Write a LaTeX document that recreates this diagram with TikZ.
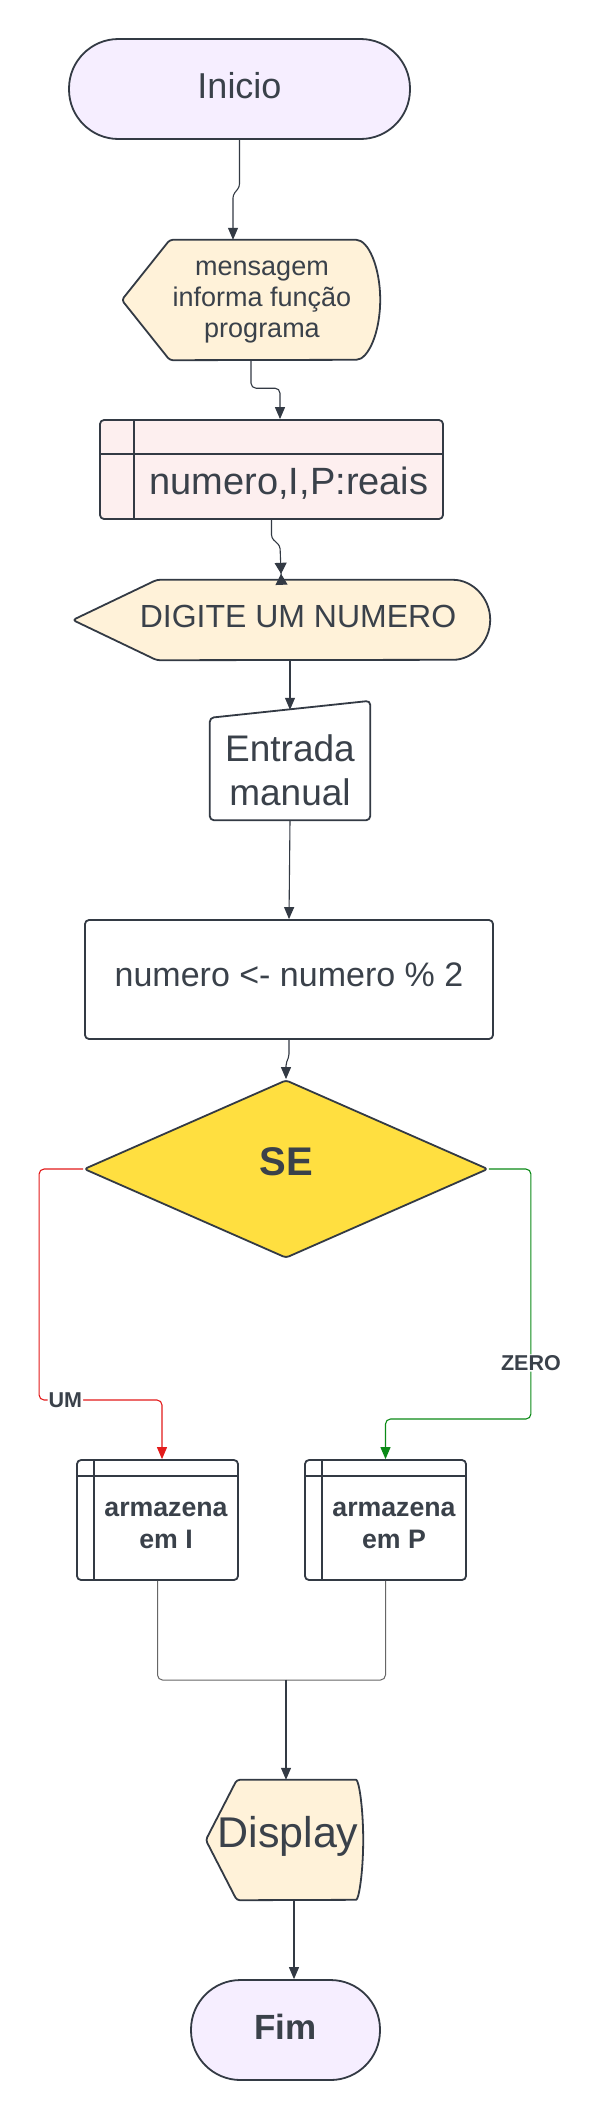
\documentclass[tikz,border=0pt]{standalone}
\usepackage{fontspec}
\setmainfont{Liberation Sans}
\usetikzlibrary{arrows.meta,shapes.geometric}

\definecolor{linecol}{HTML}{333A44}
\definecolor{textcol}{HTML}{3A414A}
\definecolor{termfill}{HTML}{F6EEFF}
\definecolor{creamfill}{HTML}{FFF2D9}
\definecolor{declfill}{HTML}{FDEFEF}
\definecolor{ifyellow}{HTML}{FFDF40}
\definecolor{oddred}{HTML}{E31B1B}
\definecolor{evengreen}{HTML}{0B8A17}
\definecolor{mergegray}{HTML}{666666}

\begin{document}
\begin{tikzpicture}[x=1pt,y=-1pt]
\tikzset{
  shapeline/.style={draw=linecol,line width=1.8pt,line join=round},
  terminal/.style={rectangle,shapeline,fill=termfill,rounded corners=49.5pt,minimum width=#1,minimum height=100pt,inner sep=0pt,text=textcol},
  hollow/.style={rectangle,draw=none,inner sep=0pt},
  nodetext/.style={text=textcol,align=center,inner sep=0pt},
  process/.style={rectangle,shapeline,fill=white,rounded corners=4pt,minimum width=408pt,minimum height=119pt,inner sep=0pt,text=textcol},
  decision/.style={diamond,shapeline,fill=ifyellow,rounded corners=3pt,minimum width=404pt,minimum height=178pt,inner sep=0pt,text=textcol},
  storage/.style 2 args={rectangle,shapeline,rounded corners=4pt,inner sep=0pt,
    path picture={
      \draw[draw=linecol,line width=1.8pt] ([yshift=-#1]path picture bounding box.north west) -- ([yshift=-#1]path picture bounding box.north east);
      \draw[draw=linecol,line width=1.8pt] ([xshift=#2]path picture bounding box.north west) -- ([xshift=#2]path picture bounding box.south west);}},
  flow/.style={draw=linecol,line width=1.1pt,rounded corners=5pt,-{Triangle[length=12pt,width=10pt]}},
  bowtie/.style={flow,-{Triangle[length=11pt,width=12pt]Triangle[length=11pt,width=12pt,reversed]}},
  mergeline/.style={draw=mergegray,line width=1pt,rounded corners=5pt},
  edgelabel/.style={fill=white,text=textcol,inner sep=1pt,font=\bfseries\fontsize{21.5}{24}\selectfont}
}
\fill[white] (0,0) rectangle (598,2120);
\useasboundingbox (0,0) rectangle (598,2120);

\node[terminal=341pt,font=\fontsize{36}{43}\selectfont,text depth=7pt] (n_inicio) at (239.5,89) {Inicio};

\node[hollow,minimum width=258pt,minimum height=120pt] (n_msg) at (251,300) {};
\draw[shapeline,fill=creamfill,rounded corners=3pt] (n_msg.west) -- ([xshift=48pt]n_msg.north west) -- ([xshift=-27pt]n_msg.north east) arc[start angle=90,end angle=-90,x radius=27pt,y radius=60pt] -- ([xshift=48pt]n_msg.south west) -- cycle;
\node[nodetext,font=\fontsize{27}{31}\selectfont] (n_msg_txt) at (262,302) {mensagem\\informa função\\programa};

\node[storage={34pt}{34pt},fill=declfill,minimum width=343pt,minimum height=99pt] (n_decl) at (271.5,469.5) {};
\node[nodetext,font=\fontsize{38}{44}\selectfont] (n_decl_txt) at (289,483) {numero,I,P:reais};

\node[hollow,minimum width=417pt,minimum height=80pt] (n_dig) at (281.5,620) {};
\draw[shapeline,fill=creamfill,rounded corners=3pt] (n_dig.west) -- ([xshift=84pt]n_dig.north west) -- ([xshift=-40pt]n_dig.north east) arc[start angle=90,end angle=-90,radius=40pt] -- ([xshift=84pt]n_dig.south west) -- cycle;
\node[nodetext,font=\fontsize{32}{38}\selectfont] (n_dig_txt) at (298,616) {DIGITE UM NUMERO};

\node[hollow,minimum width=160pt,minimum height=119pt] (n_man) at (290,760.5) {};
\draw[shapeline,fill=white,rounded corners=4pt] ([yshift=-17pt]n_man.north west) -- (n_man.north east) -- (n_man.south east) -- (n_man.south west) -- cycle;
\node[nodetext,font=\fontsize{37}{44}\selectfont] (n_man_txt) at (290,770) {Entrada\\manual};

\node[process,font=\fontsize{34}{40}\selectfont,text depth=9pt] (n_proc) at (289,979.5) {numero <- numero \% 2};

\node[decision,font=\bfseries\fontsize{40}{48}\selectfont,text depth=14pt] (n_if) at (286,1169) {SE};

\node[storage={16pt}{17pt},fill=white,minimum width=161pt,minimum height=120pt] (n_odd) at (157.5,1520) {};
\node[nodetext,font=\bfseries\fontsize{26.7}{32}\selectfont] (n_odd_txt) at (166,1525) {armazena\\em I};
\node[storage={16pt}{17pt},fill=white,minimum width=161pt,minimum height=120pt] (n_even) at (385.5,1520) {};
\node[nodetext,font=\bfseries\fontsize{26.7}{32}\selectfont] (n_even_txt) at (394,1525) {armazena\\em P};

\node[hollow,minimum width=157pt,minimum height=120pt] (n_disp) at (284.5,1840) {};
\draw[shapeline,fill=creamfill,rounded corners=3pt] (n_disp.west) -- ([xshift=31pt]n_disp.north west) -- ([xshift=-10pt]n_disp.north east) arc[start angle=90,end angle=-90,x radius=10pt,y radius=60pt] -- ([xshift=31pt]n_disp.south west) -- cycle;
\node[nodetext,font=\fontsize{43}{50}\selectfont] (n_disp_txt) at (288,1836) {Display};

\node[terminal=189pt,font=\bfseries\fontsize{35}{42}\selectfont,text depth=6pt] (n_fim) at (285.5,2030) {Fim};

\draw[flow,rounded corners=3pt] (n_inicio.south) -- ++(0,47) -- ++(-6.5,8) -- ([xshift=-18pt]n_msg.north);
\draw[flow] (n_msg.south) -- ++(0,28) -| ([xshift=8.5pt]n_decl.north);
\draw[bowtie,rounded corners=3pt] (n_decl.south) -- ++(0,18) -- ++(8.5,8) -- ([yshift=-5pt]n_dig.north);
\draw[flow] ([xshift=8.5pt]n_dig.south) -- ([yshift=-9pt]n_man.north);
\draw[flow] (n_man.south) -- (n_proc.north);
\draw[flow,rounded corners=2pt] (n_proc.south) -- ++(0,16) -- ++(-3,8) -- (n_if.north);
\draw[flow,draw=oddred] (n_if.west) -- ++(-44,0) -- ++(0,231) -| node[edgelabel,pos=0.107] (n_um) {UM} ([xshift=4.5pt]n_odd.north);
\draw[flow,draw=evengreen] (n_if.east) -- ++(42,0) -- node[edgelabel,pos=0.776] (n_zero) {ZERO} ++(0,250) -| (n_even.north);

\coordinate (c_join) at (286,1680);
\draw[mergeline] (n_odd.south) |- (c_join);
\draw[mergeline] (n_even.south) |- (c_join);
\draw[flow] (c_join) -- (c_join |- n_disp.north);
\draw[flow] ([xshift=9.5pt]n_disp.south) -- ([xshift=8.5pt]n_fim.north);
\end{tikzpicture}
\end{document}
